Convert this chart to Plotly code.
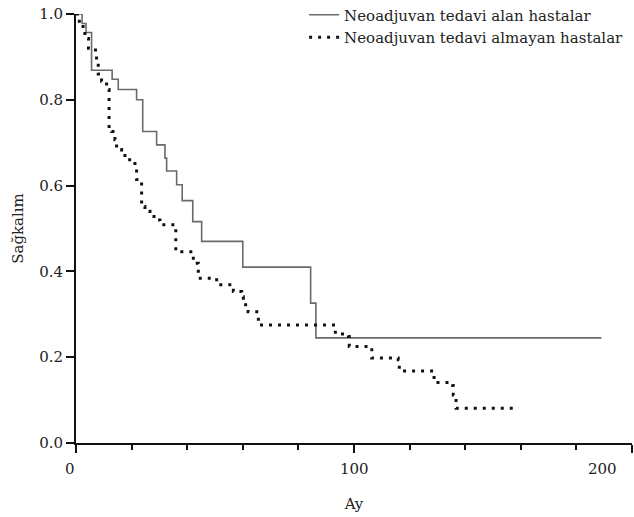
import plotly.graph_objects as go

# Data (months, survival probability)
alan_months = [0, 2.2, 3.6, 5.6, 13.0, 15.2, 21.8, 24.0, 29.0, 32.0, 32.6, 36.2, 38.2,
               42.0, 45.2, 60.0, 84.4, 86.3, 189.0]
alan_surv = [1.0, 0.978, 0.957, 0.869, 0.848, 0.824, 0.800, 0.726, 0.695, 0.664, 0.634,
             0.602, 0.565, 0.516, 0.470, 0.410, 0.326, 0.245, 0.245]

almayan_months = [0, 1.2, 3.2, 4.5, 7.0, 7.4, 8.0, 9.2, 11.0, 11.9, 12.8, 14.0, 14.6, 16.4,
                  17.6, 21.2, 21.8, 23.6, 24.8, 26.6, 29.0, 30.2, 35.9, 42.2, 44.0, 50.6,
                  56.6, 59.6, 60.2, 61.9, 65.6, 93.2, 93.3, 98.0, 98.3, 105.8, 106.4, 115.9,
                  116.3, 128.5, 128.8, 135.5, 135.7, 136.7, 159.3]
almayan_surv = [1.0, 0.971, 0.943, 0.92, 0.91, 0.89, 0.86, 0.843, 0.824, 0.738, 0.726, 0.707,
                0.684, 0.676, 0.66, 0.645, 0.614, 0.551, 0.540, 0.528, 0.520, 0.509, 0.446,
                0.419, 0.384, 0.369, 0.353, 0.341, 0.322, 0.306, 0.275, 0.270, 0.254, 0.248,
                0.225, 0.221, 0.198, 0.194, 0.168, 0.163, 0.141, 0.134, 0.112, 0.081, 0.081]

series_names = ["Neoadjuvan tedavi alan hastalar", "Neoadjuvan tedavi almayan hastalar"]
x_tick_vals = [0, 100, 200]
x_tick_labels = ["0", "100", "200"]
y_tick_vals = [0, 0.2, 0.4, 0.6, 0.8, 1.0]
y_tick_labels = ["0.0", "0.2", "0.4", "0.6", "0.8", "1.0"]

FONT = "DejaVu Serif"

fig = go.Figure()
fig.add_trace(go.Scatter(
    x=alan_months, y=alan_surv, mode="lines", line_shape="hv",
    line=dict(color="#6a6a6a", width=1.6), name=series_names[0]))
fig.add_trace(go.Scatter(
    x=almayan_months, y=almayan_surv, mode="lines", line_shape="hv",
    line=dict(color="#111111", width=3, dash="3px,6px"), name=series_names[1]))

# x tick labels as annotations (the last one sits left of its tick in the original)
shifts = [-6, 0, -30]
for v, t, s in zip(x_tick_vals, x_tick_labels, shifts):
    fig.add_annotation(x=v, y=0, xref="x", yref="paper", text=t, showarrow=False,
                       yanchor="top", yshift=-15, xshift=s,
                       font=dict(family=FONT, size=15, color="#222"))

fig.update_layout(
    width=634, height=517,
    margin=dict(l=76, r=2, t=14, b=74, autoexpand=False),
    paper_bgcolor="white", plot_bgcolor="white",
    font=dict(family=FONT, size=15, color="#222"),
    showlegend=True,
    legend=dict(x=0.993, xanchor="right", y=1.036, yanchor="top",
                bgcolor="rgba(0,0,0,0)", font=dict(family=FONT, size=15, color="#222"),
                itemwidth=30, tracegroupgap=0),
    xaxis=dict(range=[0, 200], showgrid=False, zeroline=False, showline=True, automargin=False,
               linecolor="#111", linewidth=2, ticks="outside", tickvals=x_tick_vals,
               ticklen=8, tickwidth=2, tickcolor="#111", showticklabels=False,
               minor=dict(dtick=20, ticks="outside", ticklen=5, tickwidth=2, tickcolor="#111"),
               title=dict(text="Ay", font=dict(family=FONT, size=15), standoff=46)),
    yaxis=dict(range=[0, 1.0], showgrid=False, zeroline=False, showline=True, automargin=False,
               linecolor="#111", linewidth=2, ticks="outside", tickvals=y_tick_vals,
               ticktext=y_tick_labels, ticklen=8, tickwidth=2, tickcolor="#111",
               ticklabeloverflow="allow",
               title=dict(text="Sağkalım", font=dict(family=FONT, size=15), standoff=12)),
)

fig.write_html("out.html", config={"displayModeBar": False},
               post_script="document.body.style.margin='0';")
